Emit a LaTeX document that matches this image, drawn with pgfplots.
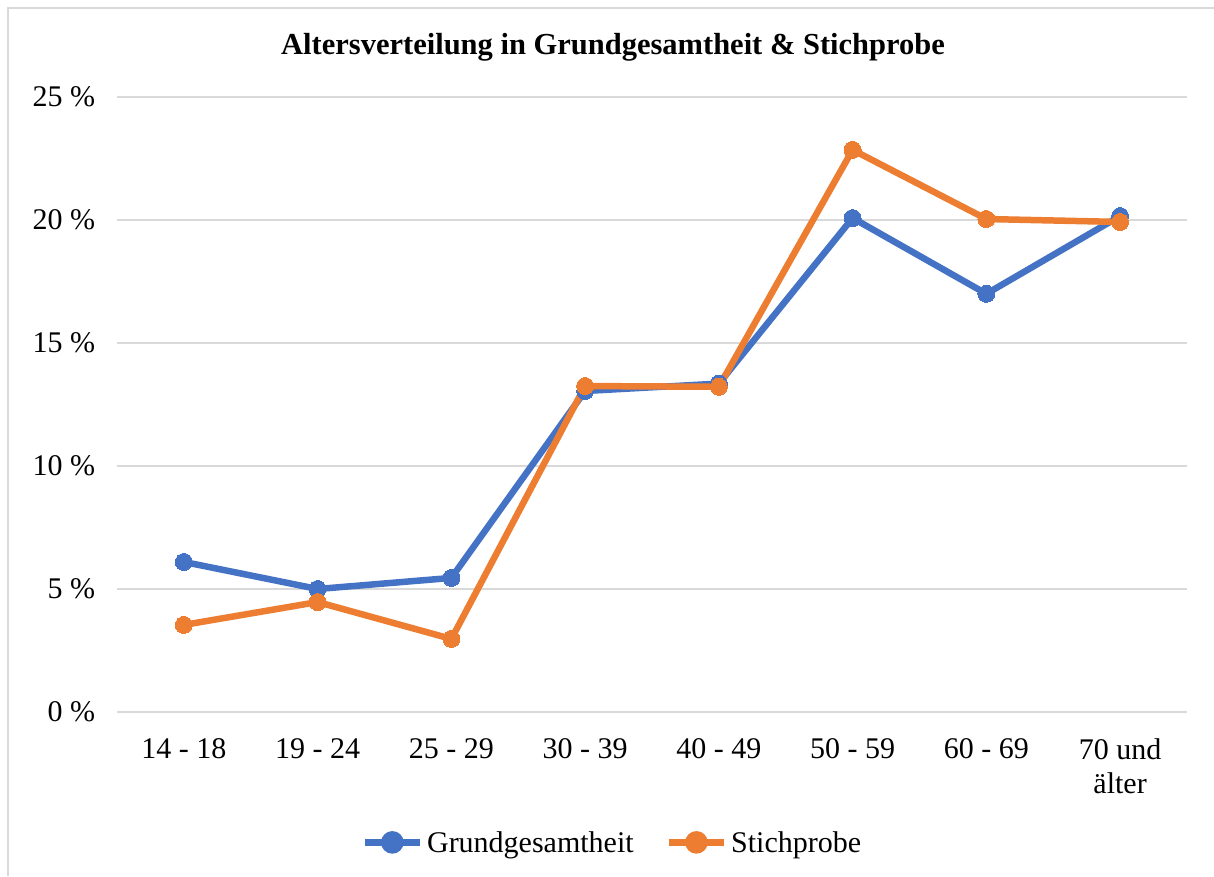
\documentclass[border=0pt]{standalone}
\usepackage{fontspec}
\setmainfont{Liberation Serif}
\usepackage{pgfplots}
\pgfplotsset{compat=1.18}
\definecolor{cblue}{HTML}{4472C4}
\definecolor{corange}{HTML}{ED7D31}
\definecolor{cgrid}{HTML}{D9D9D9}
\begin{document}
\begin{tikzpicture}[x=1pt,y=1pt]
\path[use as bounding box] (0,0) rectangle (1214,876);
\draw[cgrid, line width=2pt] (8,0) -- (8,868) -- (1214,868);
\node[font=\fontsize{30.5}{36}\selectfont\bfseries] at (613,829) {Altersverteilung in Grundgesamtheit \& Stichprobe};
\begin{axis}[
  at={(117pt,164pt)}, anchor=south west,
  scale only axis, width=1070pt, height=615pt,
  xmin=-0.5, xmax=7.5, ymin=0, ymax=25,
  xtick={0,...,7},
  xticklabels={14 - 18,19 - 24,25 - 29,30 - 39,40 - 49,50 - 59,60 - 69,{70 und\\älter}},
  minor xtick={-0.5,0.5,...,7.5},
  xtick style={draw=none},
  minor tick length=8pt,
  minor x tick style={cgrid, line width=1.5pt},
  xticklabel style={align=center, font=\fontsize{30}{34}\selectfont, yshift=-19pt},
  ytick={0,5,...,25},
  yticklabel={\pgfmathprintnumber{\tick}~\%},
  yticklabel style={font=\fontsize{30}{34}\selectfont, xshift=-14pt},
  /pgf/number format/assume math mode=true,
  ymajorgrids, grid style={cgrid, line width=1.5pt},
  ytick style={draw=none},
  axis line style={draw=none},
  extra description/.code={\draw[cgrid, line width=1.5pt] (axis cs:-0.5,0) -- (axis cs:7.5,0);},
  tick align=outside,
  clip=false,
  legend style={at={(0.463,-0.212)}, anchor=center, draw=none, legend columns=2,
     font=\fontsize{30}{34}\selectfont, column sep=2pt,
     /tikz/every even column/.append style={column sep=30pt}},
  legend image code/.code={
     \draw[#1, mark=none] (0pt,0pt) -- (55pt,0pt);
     \fill[#1] (27.5pt,0pt) circle (8pt);},
]
\addplot[cblue, line width=6.5pt, mark=*, mark size=8.5pt, mark options={line width=0pt}] coordinates {
(0,6.1) (1,5.0) (2,5.45) (3,13.05) (4,13.35) (5,20.08) (6,17.0) (7,20.16)};
\addlegendentry{Grundgesamtheit}
\addplot[corange, line width=6.5pt, mark=*, mark size=8.5pt, mark options={line width=0pt}] coordinates {
(0,3.54) (1,4.47) (2,2.97) (3,13.25) (4,13.22) (5,22.85) (6,20.04) (7,19.92)};
\addlegendentry{Stichprobe}
\end{axis}
\end{tikzpicture}
\end{document}
